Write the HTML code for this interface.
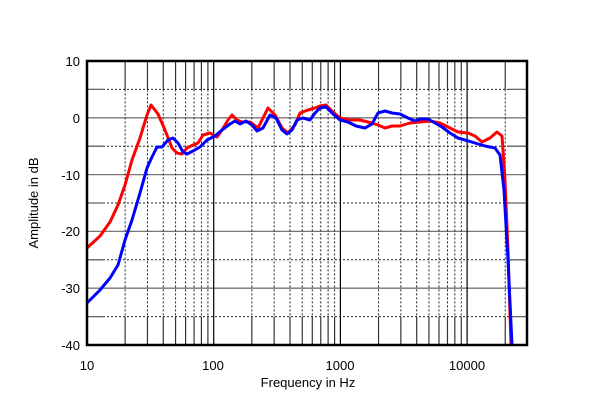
<!DOCTYPE html>
<html><head><meta charset="utf-8"><style>
html,body{margin:0;padding:0;background:#fff}
svg{display:block}
text{font-family:"Liberation Sans",Arial,sans-serif;font-size:13px;fill:#000}
</style></head><body>
<svg id="s" width="600" height="405" xmlns="http://www.w3.org/2000/svg">
<g id="grid"></g>
<polyline fill="none" stroke="#ff0000" stroke-width="3" stroke-linejoin="round" points="87,248 100,236 110,222 118,205 125,185 132,160 140,138 147,115 151,105 158,114 165,130 172,148 177,153 182,154 187,148 193,145 198,143 203,135 210,133 217,137 222,130 228,120 232,115 237,120 242,122 250,122 258,128 263,118 268,108 275,115 282,128 288,133 295,125 300,113 308,110 315,108 320,106 326,105 333,112 340,118 350,120 360,120 372,123 378,125 385,128 392,126 400,126 410,123 420,122 430,121 440,123 450,128 458,132 468,133 475,136 482,142 490,138 497,132 502,136 505,180 508,250 511,345"/>
<polyline fill="none" stroke="#0000ff" stroke-width="3" stroke-linejoin="round" points="87,303 100,290 110,278 118,265 125,240 132,220 140,193 147,168 152,157 157,147 162,147 168,140 173,138 178,143 183,152 187,154 193,151 200,147 207,140 215,136 222,130 230,124 235,121 240,124 246,121 252,125 257,131 263,128 270,115 276,118 282,130 287,134 292,130 297,120 303,118 310,120 315,113 320,108 326,107 332,113 340,120 348,122 356,126 365,128 372,124 378,113 385,111 392,113 400,114 408,118 415,121 420,119 428,119 435,123 442,127 450,133 458,138 465,140 475,143 485,146 495,148 500,155 504,190 508,260 512,345"/>
<rect x="87" y="61" width="440" height="284" fill="none" stroke="#000" stroke-width="2.5"/>
<g text-anchor="end">
<text x="80" y="66">10</text><text x="80" y="123">0</text><text x="80" y="180">-10</text>
<text x="80" y="236">-20</text><text x="80" y="293">-30</text><text x="80" y="350">-40</text>
</g>
<g text-anchor="middle">
<text x="87" y="370">10</text><text x="213" y="370">100</text><text x="340" y="370">1000</text><text x="467" y="370">10000</text>
<text x="308" y="387">Frequency in Hz</text>
<text transform="translate(38,203) rotate(-90)">Amplitude in dB</text>
</g>
</svg>
<script>
var g=document.getElementById('grid'),ns='http://www.w3.org/2000/svg';
function L(x1,y1,x2,y2,c,w,d){var l=document.createElementNS(ns,'line');l.setAttribute('x1',x1);l.setAttribute('y1',y1);l.setAttribute('x2',x2);l.setAttribute('y2',y2);l.setAttribute('stroke',c);l.setAttribute('stroke-width',w);if(d)l.setAttribute('stroke-dasharray',d);g.appendChild(l);}
var T=61,B=345,Lx=87,R=527,dec=126.7;
function X(f){return Lx+dec*Math.log10(f/10);}
function Y(db){return T+(10-db)*5.68;}
// horizontal
for(var db=0;db>=-30;db-=10)L(Lx,Y(db),R,Y(db),'#777',1.3);
for(var db=5;db>=-35;db-=10){L(Lx,Y(db),R,Y(db),'#222',1,'2,2');L(Lx,Y(db),Lx+18,Y(db),'#666',1.3);L(R-18,Y(db),R,Y(db),'#666',1.3);}
// vertical
for(var d=10;d<=10000;d*=10)for(var m=2;m<=9;m++){var f=d*m;var x=X(f);if(x>=R)continue;
L(x,T,x,Y(5),'#333',1.2);L(x,Y(5),x,Y(-35),'#222',1,'2,2');L(x,Y(-35),x,B,'#333',1.2);}
[100,1000,10000].forEach(function(f){L(X(f),T,X(f),B,'#000',1.2);});
</script>
</body></html>
